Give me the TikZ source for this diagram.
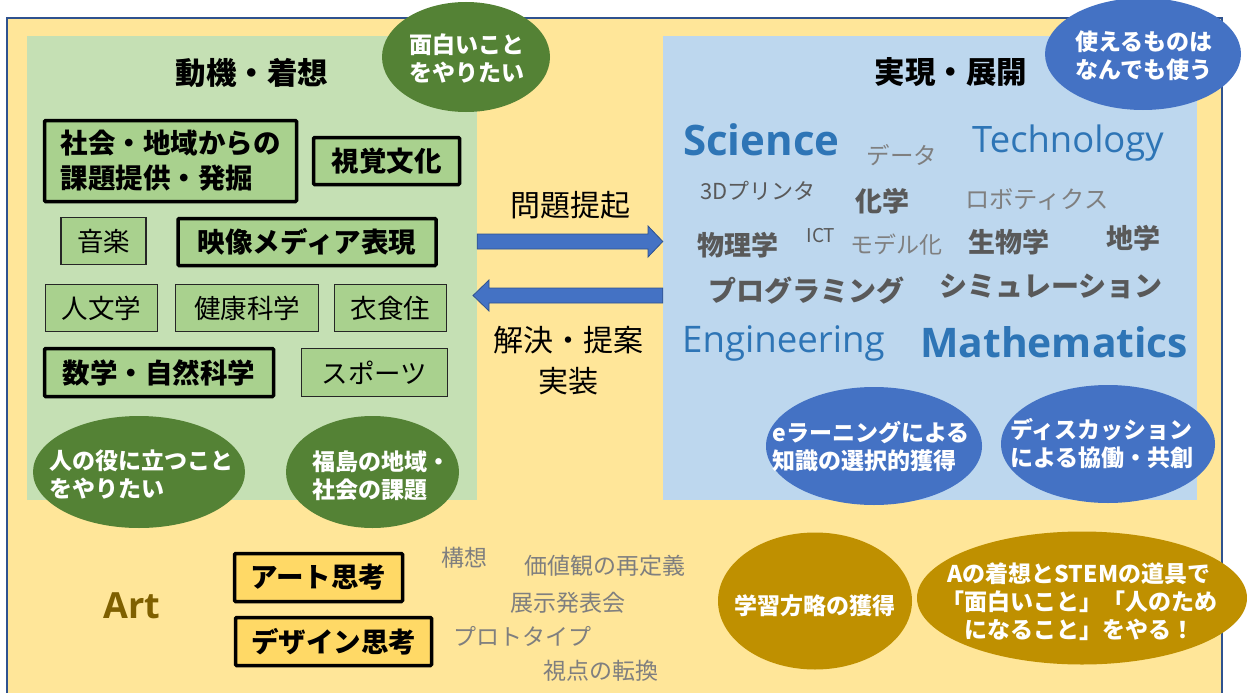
\documentclass[tikz,border=0pt]{standalone}
\usepackage{fontspec}
\setmainfont{Noto Sans CJK JP}
\newfontfamily\os{Open Sans}
\usetikzlibrary{shapes.geometric}
\definecolor{outery}{HTML}{FFE699}
\definecolor{outerb}{HTML}{2F528F}
\definecolor{panelg}{HTML}{C5E0B4}
\definecolor{boxg}{HTML}{A9D18E}
\definecolor{darkg}{HTML}{548235}
\definecolor{panelb}{HTML}{BDD7EE}
\definecolor{ellb}{HTML}{4472C4}
\definecolor{stemb}{HTML}{2E75B6}
\definecolor{gold}{HTML}{BF9000}
\definecolor{artc}{HTML}{7F6000}
\definecolor{boxy}{HTML}{FFD966}
\definecolor{grayd}{HTML}{595959}
\definecolor{grayl}{HTML}{7F7F7F}
\definecolor{arredge}{HTML}{2F528F}
\begin{document}
\begin{tikzpicture}[x=1pt,y=-1pt,
  txt/.style={inner sep=0pt},
  thickbox/.style={draw=black, line width=3.5pt, inner sep=0pt, rounded corners=1pt, fill=boxg,
    font=\fontsize{27.5}{35}\selectfont\bfseries},
  thinbox/.style={draw=black!85, line width=1.2pt, inner sep=0pt, fill=boxg,
    font=\fontsize{26.5}{32}\selectfont},
  artbox/.style={thickbox, fill=boxy},
  oval/.style={ellipse, inner sep=0pt},
  ovaltxt/.style={txt, text=white, align=left, font=\fontsize{23}{28}\selectfont\bfseries},
  title/.style={txt, font=\fontsize{30.5}{36}\selectfont\bfseries},
  grayb/.style={txt, text=grayd, font=\fontsize{27}{30}\selectfont\bfseries},
  grayr/.style={txt, text=grayl, font=\fontsize{23}{28}\selectfont},
  stem/.style={txt, text=stemb, anchor=base west},
  blockarrow/.style={fill=ellb, draw=arredge, line width=0.8pt, line join=miter},
  arrtxt/.style={txt, align=center, font=\fontsize{30}{41}\selectfont}
]
\useasboundingbox (0,0) rectangle (1247,693);
\fill[white] (0,0) rectangle (1247,693);
% outer area
\fill[outery] (7,18) rectangle (1222,693);
\draw[outerb, line width=1.5pt] (7,693) -- (7,18) -- (1222,18) -- (1222,693);
% panels
\node[fill=panelg, minimum width=450, minimum height=464, inner sep=0pt] (mot) at (252,268) {};
\node[fill=panelb, minimum width=534, minimum height=464, inner sep=0pt] (real) at (930,268) {};
% titles
\node[title] (t1) at (252,73) {動機・着想};
\node[title] (t2) at (951,72) {実現・展開};
% green boxes
\node[thickbox, minimum width=252, minimum height=81, align=left] (soc) at (170.5,161) {社会・地域からの\\課題提供・発掘};
\node[thickbox, minimum width=146, minimum height=47] (vis) at (386.5,161) {視覚文化};
\node[thinbox, minimum width=85, minimum height=47] (music) at (103.5,241) {音楽};
\node[thickbox, minimum width=258, minimum height=47] (eizo) at (307,242) {映像メディア表現};
\node[thinbox, minimum width=112, minimum height=47] (jin) at (101.5,308) {人文学};
\node[thinbox, minimum width=143, minimum height=47] (ken) at (247,308) {健康科学};
\node[thinbox, minimum width=112, minimum height=47] (ish) at (390.5,308) {衣食住};
\node[thickbox, minimum width=229, minimum height=48] (sug) at (159,372.5) {数学・自然科学};
\node[thinbox, minimum width=146, minimum height=48] (spo) at (374.5,372.5) {スポーツ};
% green ovals
\node[oval, fill=darkg, minimum width=168, minimum height=110] (omo) at (466,57) {};
\node[ovaltxt] at (467,58) {面白いこと\\をやりたい};
\node[oval, fill=darkg, minimum width=212, minimum height=112] (yak) at (139,472) {};
\node[ovaltxt] at (141,475) {人の役に立つこと\\をやりたい};
\node[oval, fill=darkg, minimum width=173, minimum height=112] (fuk) at (372.5,472) {};
\node[ovaltxt] at (381,476) {福島の地域・\\社会の課題};
% blue oval top
\node[oval, fill=ellb, minimum width=196, minimum height=112] (tsu) at (1143,54) {};
\node[ovaltxt] at (1144,56) {使えるものは\\なんでも使う};
% STEM words
\node[stem, font=\os\fontsize{42}{48}\selectfont\bfseries] (sci) at (683,155) {Science};
\node[stem, font=\os\fontsize{36.4}{42}\selectfont] (tec) at (972,152) {Technology};
\node[stem, font=\os\fontsize{36.6}{42}\selectfont] (eng) at (682,352) {Engineering};
\node[stem, font=\os\fontsize{40.8}{46}\selectfont\bfseries] (mat) at (920,357) {Mathematics};
% gray words
\node[grayr, font=\fontsize{23.5}{26}\selectfont] (dat) at (902,155) {データ};
\node[txt, text=grayd, font=\fontsize{22}{24}\selectfont] (p3d) at (758,191) {3Dプリンタ};
\node[grayb] (kag) at (882,201) {化学};
\node[grayr, font=\fontsize{24.3}{26}\selectfont] (rob) at (1037,199) {ロボティクス};
\node[grayb] (but) at (738,245) {物理学};
\node[txt, text=grayd, font=\fontsize{19}{22}\selectfont] (ict) at (821,236) {ICT};
\node[grayr] (mod) at (896,245) {モデル化};
\node[grayb] (sei) at (1009,242) {生物学};
\node[grayb] (chi) at (1133,238) {地学};
\node[grayb, font=\fontsize{28}{30}\selectfont\bfseries] (pro) at (806,291) {プログラミング};
\node[grayb, font=\fontsize{28}{30}\selectfont\bfseries] (sim) at (1051,286) {シミュレーション};
% blue ovals bottom
\node[oval, fill=ellb, minimum width=216, minimum height=118] (elr) at (874,446) {};
\node[ovaltxt] at (871,447) {eラーニングによる\\知識の選択的獲得};
\node[oval, fill=ellb, minimum width=214, minimum height=118] (dis) at (1108,444) {};
\node[ovaltxt] at (1102,444) {ディスカッション\\による協働・共創};
% block arrows between the panels
\draw[blockarrow] (mot.east |- 0,234) -- (648,234) -- (648,226) -- (real.west |- 0,241.5)
  -- (648,257) -- (648,249) -- (mot.east |- 0,249) -- cycle;
\draw[blockarrow] (real.west |- 0,288) -- (489,288) -- (489,280) -- (473,295.5)
  -- (489,311) -- (489,303) -- (real.west |- 0,303) -- cycle;
\node[arrtxt] (l1) at (570,205) {問題提起};
\node[arrtxt] (l2) at (568,361) {解決・提案\\実装};
% Art area
\node[txt, text=artc, anchor=base, font=\os\fontsize{36}{42}\selectfont\bfseries] (art) at (132,618) {Art};
\node[artbox, minimum width=168, minimum height=48] (ath) at (318.5,577.5) {アート思考};
\node[artbox, minimum width=196, minimum height=48] (dth) at (333.5,641.5) {デザイン思考};
\node[grayr] (kos) at (464,558) {構想};
\node[grayr] (kac) at (605,566) {価値観の再定義};
\node[grayr] (ten) at (568,603) {展示発表会};
\node[grayr] (pty) at (522,636) {プロトタイプ};
\node[grayr] (shi) at (601,671) {視点の転換};
% gold ovals
\node[oval, fill=gold, minimum width=194, minimum height=137] (gak) at (815,601) {};
\node[ovaltxt] at (815,606) {学習方略の獲得};
\node[oval, fill=gold, minimum width=330, minimum height=133] (ast) at (1082,598) {};
\node[ovaltxt, align=center] at (1079,602) {Aの着想とSTEMの道具で\\「面白いこと」「人のため\\になること」をやる！};
\end{tikzpicture}
\end{document}
